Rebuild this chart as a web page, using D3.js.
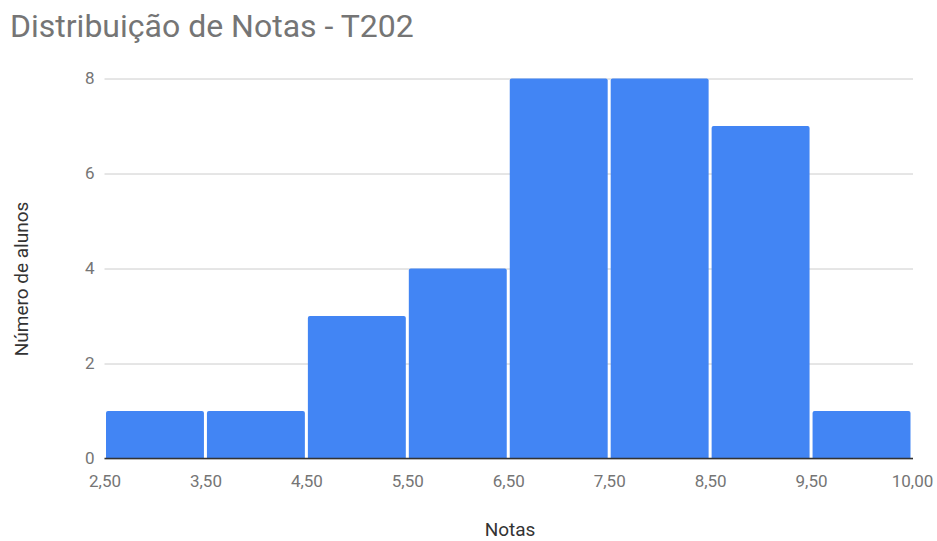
<!DOCTYPE html>
<html>
<head>
<meta charset="utf-8">
<script src="https://cdn.jsdelivr.net/npm/d3@7"></script>
<style>
  html, body { margin: 0; padding: 0; background: #ffffff; }
  svg { display: block; font-family: Roboto, "Noto Sans", sans-serif; }
</style>
</head>
<body>
<svg id="chart" width="937" height="541"></svg>
<script>
// Histogram bins: boundary labels and the count of students per bin
const binEdges = ["2,50", "3,50", "4,50", "5,50", "6,50", "7,50", "8,50", "9,50", "10,00"];
const counts = [1, 1, 3, 4, 8, 8, 7, 1];
const yTicks = [0, 2, 4, 6, 8];

const titleText = "Distribuição de Notas - T202";
const xTitle = "Notas";
const yTitle = "Número de alunos";

const W = 937, H = 541;
const plot = { left: 104.5, right: 912, top: 78.5, bottom: 458.5 };

const svg = d3.select("#chart");

const x = d3.scalePoint().domain(binEdges).range([plot.left, plot.right]);
const y = d3.scaleLinear().domain([0, 8]).range([plot.bottom, plot.top]);

// Title
svg.append("text")
  .attr("x", 10).attr("y", 37)
  .attr("fill", "#757575")
  .attr("font-size", 32)
  .text(titleText);

// Gridlines + y tick labels
const yAxis = svg.append("g")
  .attr("transform", `translate(${plot.left},0)`)
  .call(d3.axisLeft(y).tickValues(yTicks).tickFormat(d3.format("d"))
    .tickSize(-(plot.right - plot.left + 1)).tickPadding(10));
yAxis.select(".domain").remove();
yAxis.selectAll(".tick line").attr("stroke", "#cccccc").attr("stroke-width", 1);
yAxis.selectAll(".tick text").attr("fill", "#757575").attr("font-size", 17)
  .attr("font-family", "Roboto");

// Bars with slightly rounded top corners
const inset = 1.5, r = 2;
function barPath(x0, x1, yTop, yBase) {
  const p = d3.path();
  p.moveTo(x0, yBase);
  p.lineTo(x0, yTop + r);
  p.quadraticCurveTo(x0, yTop, x0 + r, yTop);
  p.lineTo(x1 - r, yTop);
  p.quadraticCurveTo(x1, yTop, x1, yTop + r);
  p.lineTo(x1, yBase);
  p.closePath();
  return p.toString();
}
svg.append("g").selectAll("path")
  .data(counts)
  .join("path")
  .attr("fill", "#4285f4")
  .attr("d", (d, i) => barPath(
    x(binEdges[i]) + inset,
    x(binEdges[i + 1]) - inset,
    y(d),
    y(0)));

// Baseline + x tick labels at bin edges
const xAxis = svg.append("g")
  .attr("transform", `translate(0,${plot.bottom})`)
  .call(d3.axisBottom(x).tickSize(0).tickPadding(16));
xAxis.select(".domain")
  .attr("stroke", "#333333").attr("stroke-width", 1.5)
  .attr("d", `M${plot.left},0H${plot.right + 1}`);
xAxis.selectAll(".tick text").attr("fill", "#757575").attr("font-size", 17)
  .attr("font-family", "Roboto");

// Axis titles
svg.append("text")
  .attr("x", 510).attr("y", 536)
  .attr("text-anchor", "middle")
  .attr("fill", "#333333")
  .attr("font-size", 19)
  .text(xTitle);

svg.append("text")
  .attr("transform", "translate(28,279) rotate(-90)")
  .attr("text-anchor", "middle")
  .attr("fill", "#333333")
  .attr("font-size", 19)
  .text(yTitle);
</script>
</body>
</html>
